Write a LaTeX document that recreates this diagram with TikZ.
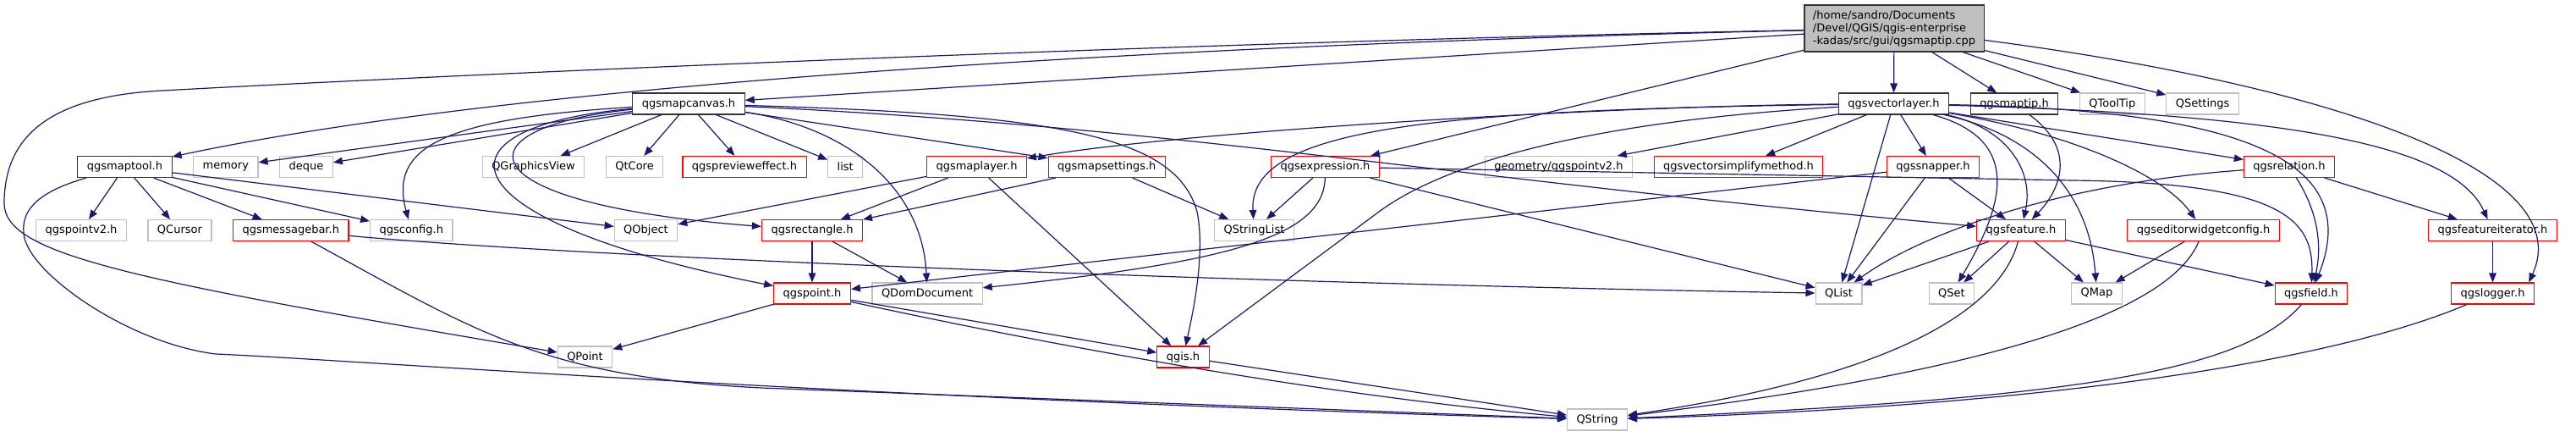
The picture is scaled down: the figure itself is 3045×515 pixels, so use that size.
\documentclass[tikz,border=0pt]{standalone}
\usepackage{fontspec}
\setmainfont{DejaVu Sans}
\usepackage{tikz}
\usetikzlibrary{arrows.meta,positioning}
\definecolor{edgeblue}{HTML}{191970}
\definecolor{sysgray}{HTML}{BFBFBF}
\definecolor{rootgray}{HTML}{BFBFBF}
\definecolor{docblack}{HTML}{333333}

\begin{document}
\begin{tikzpicture}[
  x=1pt, y=-1pt, node distance=24.5pt,
  hbox/.style={rectangle, draw, fill=white, line width=1.1pt, minimum height=25pt,
    inner xsep=11pt, inner ysep=0pt, font=\fontsize{13pt}{15pt}\selectfont},
  docfile/.style={hbox, draw=docblack},
  sysfile/.style={hbox, draw=sysgray},
  redfile/.style={hbox, draw=red},
  rootfile/.style={hbox, draw=docblack, fill=rootgray, align=left, inner xsep=10pt, minimum height=55pt},
  dep/.style={-{Triangle[length=11pt,width=8.5pt]}, line width=1.2pt, draw=edgeblue},
]
  \useasboundingbox (0,0) rectangle (3045,515);

  \node[rootfile] (maptipcpp) at (2239,33.5) {/home/sandro/Documents\\/Devel/QGIS/qgis-enterprise\\-kadas/src/gui/qgsmaptip.cpp};

  \node[docfile] (mapcanvas) at (814,122.5) {qgsmapcanvas.h};
  \node[docfile] (vectorlayer) at (2238.5,122.5) {qgsvectorlayer.h};
  \node[docfile, right=of vectorlayer] (maptiph) {qgsmaptip.h};
  \node[sysfile, right=of maptiph] (qtooltip) {QToolTip};
  \node[sysfile, right=of qtooltip] (qsettings) {QSettings};

  \node[docfile] (maptool) at (147.5,197) {qgsmaptool.h};
  \node[sysfile, right=of maptool] (memory) {memory};
  \node[sysfile, right=of memory] (deque) {deque};
  \node[sysfile] (qgraphicsview) at (630.5,197) {QGraphicsView};
  \node[sysfile, right=of qgraphicsview] (qtcore) {QtCore};
  \node[redfile] (previeweffect) at (880,197) {qgspreview{}effect.h};
  \node[sysfile, right=of previeweffect] (list) {list};
  \node[redfile] (maplayer) at (1154.5,197) {qgsmaplayer.h};
  \node[redfile, right=of maplayer] (mapsettings) {qgsmapsettings.h};
  \node[redfile] (expression) at (1566.5,197) {qgsexpression.h};
  \node[sysfile] (pointvtwo) at (1842.5,197) {geometry/qgspointv2.h};
  \node[redfile, right=of pointvtwo] (simplifymethod) {qgsvectorsimplifymethod.h};
  \node[redfile] (snapper) at (2285,197) {qgssnapper.h};
  \node[redfile] (relation) at (2706,197) {qgsrelation.h};

  \node[sysfile] (pointvtwoh) at (96,272) {qgspointv2.h};
  \node[sysfile, right=of pointvtwoh] (qcursor) {QCursor};
  \node[redfile, right=of qcursor] (messagebar) {qgsmessagebar.h};
  \node[sysfile, right=of messagebar] (config) {qgsconfig.h};
  \node[sysfile] (qobject) at (763.5,272) {QObject};
  \node[redfile] (rectangle) at (960,272) {qgsrectangle.h};
  \node[sysfile] (qstringlist) at (1482.5,272) {QStringList};
  \node[redfile] (feature) at (2389,272) {qgsfeature.h};
  \node[redfile] (editorconfig) at (2604.5,272) {qgseditorwidgetconfig.h};
  \node[redfile] (featureiterator) at (2946.5,272) {qgsfeatureiterator.h};

  \node[redfile] (point) at (960,346.5) {qgspoint.h};
  \node[sysfile, right=of point] (qdomdocument) {QDomDocument};
  \node[sysfile] (qlist) at (2173.5,346.5) {QList};
  \node[sysfile] (qset) at (2307,346.5) {QSet};
  \node[sysfile] (qmap) at (2478.5,346.5) {QMap};
  \node[redfile] (field) at (2732,346.5) {qgsfield.h};
  \node[redfile] (logger) at (2946.5,346.5) {qgslogger.h};

  \node[sysfile] (qpoint) at (691.5,421.5) {QPoint};
  \node[redfile] (qgis) at (1398.5,421.5) {qgis.h};
  \node[sysfile] (qstring) at (1888,495.5) {QString};

  \draw[dep] (maptipcpp) -- (mapcanvas);
  \draw[dep] (maptipcpp) .. controls (1500,50) and (650,90) .. (maptool);
  \draw[dep] (maptipcpp) .. controls (1400,50) and (600,85) .. (191,107)
    .. controls (60,114) and (5,160) .. (5,240) .. controls (5,300) and (150,330) .. (qpoint);
  \draw[dep] (maptipcpp) -- (expression);
  \draw[dep] (maptipcpp) -- (vectorlayer);
  \draw[dep] (maptipcpp) -- (maptiph);
  \draw[dep] (maptipcpp) -- (qtooltip);
  \draw[dep] (maptipcpp) -- (qsettings);
  \draw[dep] (maptipcpp) .. controls (2750,100) and (3050,200) .. (logger.17);
  \draw[dep] (maptiph) .. controls (2460,180) and (2430,230) .. (feature);

  \draw[dep] (mapcanvas) -- (memory);
  \draw[dep] (mapcanvas) -- (deque);
  \draw[dep] (mapcanvas) -- (qgraphicsview);
  \draw[dep] (mapcanvas) -- (qtcore);
  \draw[dep] (mapcanvas) -- (previeweffect);
  \draw[dep] (mapcanvas) -- (list);
  \draw[dep] (mapcanvas) -- (mapsettings);
  \draw[dep] (mapcanvas) .. controls (520,140) and (460,175) .. (config);
  \draw[dep] (mapcanvas) .. controls (500,150) and (520,260) .. (point);
  \draw[dep] (mapcanvas) .. controls (540,150) and (540,240) .. (rectangle);
  \draw[dep] (mapcanvas) .. controls (1000,150) and (1090,220) .. (qdomdocument);
  \draw[dep] (mapcanvas) .. controls (1250,135) and (1390,160) .. (1415,250)
    .. controls (1425,300) and (1410,370) .. (qgis);
  \draw[dep] (mapcanvas) .. controls (1400,150) and (1700,210) .. (feature);

  \draw[dep] (maptool) -- (pointvtwoh);
  \draw[dep] (maptool) -- (qcursor);
  \draw[dep] (maptool) -- (messagebar);
  \draw[dep] (maptool) -- (config);
  \draw[dep] (maptool) -- (qobject);
  \draw[dep] (maptool) .. controls (50,225) and (25,245) .. (28,275)
    .. controls (30,320) and (150,405) .. (255,418)
    .. controls (400,424) and (1000,470) .. (qstring);

  \draw[dep] (messagebar) .. controls (700,305) and (1500,335) .. (qlist);
  \draw[dep] (messagebar) .. controls (560,390) and (640,445) .. (900,458) -- (qstring);

  \draw[dep] (rectangle) -- (point);
  \draw[dep] (rectangle) -- (qdomdocument);
  \draw[dep] (maplayer) -- (qobject);
  \draw[dep] (maplayer) -- (rectangle);
  \draw[dep] (maplayer) -- (qgis);
  \draw[dep] (mapsettings) -- (rectangle);
  \draw[dep] (mapsettings) -- (qstringlist);

  \draw[dep] (expression) -- (qstringlist);
  \draw[dep] (expression) .. controls (1565,280) and (1450,310) .. (qdomdocument);
  \draw[dep] (expression) -- (qlist);
  \draw[dep] (expression) -- (2450,213) .. controls (2700,216) and (2735,260) .. (field);

  \draw[dep] (vectorlayer) .. controls (1900,125) and (1400,155) .. (maplayer);
  \draw[dep] (vectorlayer) .. controls (1700,130) and (1475,150) .. (qstringlist);
  \draw[dep] (vectorlayer) .. controls (1850,145) and (1698,200) .. (1630,250) -- (qgis);
  \draw[dep] (vectorlayer) -- (pointvtwo);
  \draw[dep] (vectorlayer) -- (simplifymethod);
  \draw[dep] (vectorlayer) -- (snapper);
  \draw[dep] (vectorlayer) -- (qlist);
  \draw[dep] (vectorlayer) .. controls (2390,165) and (2370,240) .. (qset);
  \draw[dep] (vectorlayer) .. controls (2370,150) and (2405,200) .. (feature);
  \draw[dep] (vectorlayer) .. controls (2410,160) and (2470,230) .. (qmap);
  \draw[dep] (vectorlayer) .. controls (2460,160) and (2560,210) .. (editorconfig);
  \draw[dep] (vectorlayer) -- (relation);
  \draw[dep] (vectorlayer) .. controls (2680,130) and (2790,200) .. (field);
  \draw[dep] (vectorlayer) .. controls (2700,135) and (2900,170) .. (featureiterator);

  \draw[dep] (snapper) -- (qlist);
  \draw[dep] (snapper) -- (feature);
  \draw[dep] (snapper) -- (point);
  \draw[dep] (relation) .. controls (2450,215) and (2280,270) .. (qlist);
  \draw[dep] (relation) .. controls (2740,250) and (2745,290) .. (field);
  \draw[dep] (relation) -- (featureiterator);

  \draw[dep] (feature) -- (qlist);
  \draw[dep] (feature) -- (qset);
  \draw[dep] (feature) -- (qmap);
  \draw[dep] (feature) -- (field);
  \draw[dep] (feature) .. controls (2360,380) and (2200,450) .. (qstring);
  \draw[dep] (editorconfig) -- (qmap);
  \draw[dep] (editorconfig) .. controls (2560,380) and (2300,445) .. (qstring);
  \draw[dep] (field) .. controls (2650,440) and (2450,470) .. (qstring);
  \draw[dep] (featureiterator) -- (logger);
  \draw[dep] (logger) .. controls (2750,430) and (2400,480) .. (qstring);

  \draw[dep] (point) -- (qpoint);
  \draw[dep] (point) -- (qgis);
  \draw[dep] (point) .. controls (1300,420) and (1600,470) .. (qstring);
  \draw[dep] (qgis) -- (qstring);
\end{tikzpicture}
\end{document}
